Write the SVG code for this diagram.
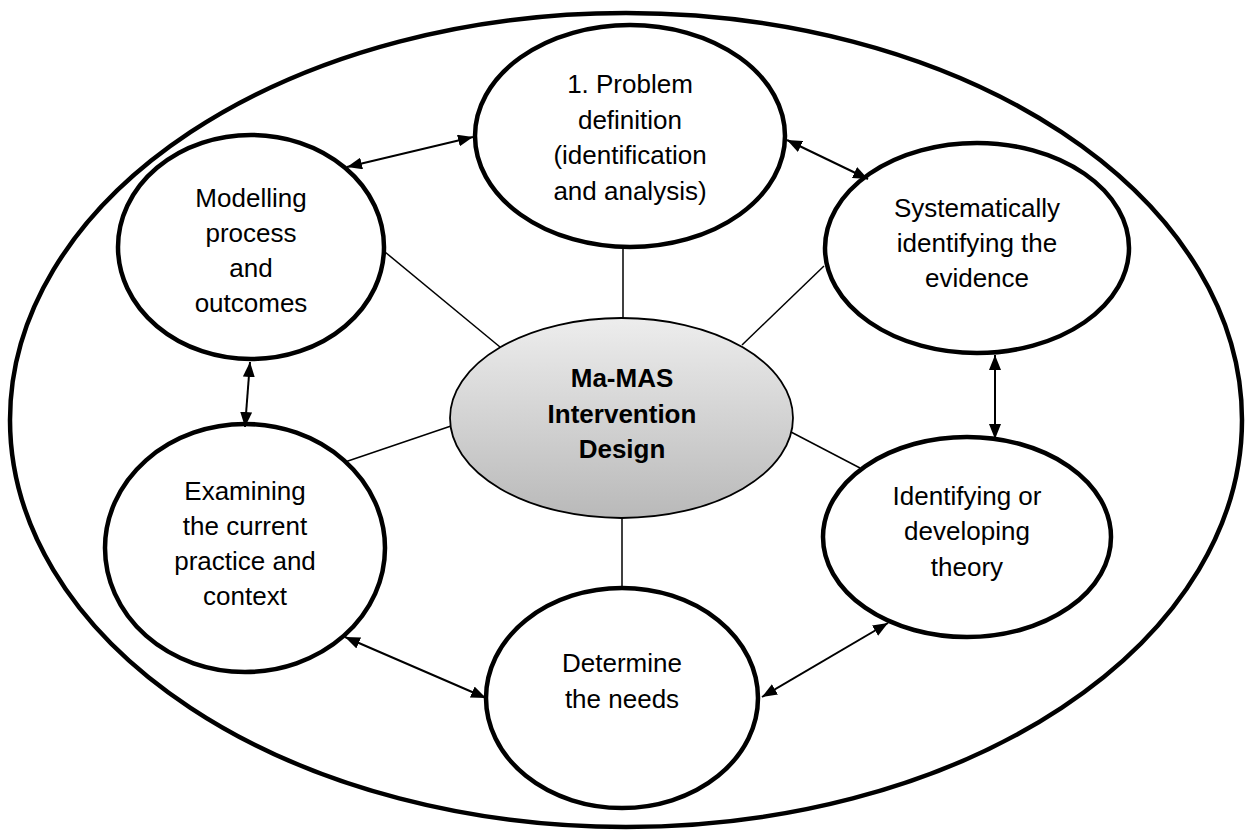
<svg xmlns="http://www.w3.org/2000/svg" width="1251" height="837" viewBox="0 0 1251 837">
  <defs>
    <linearGradient id="hubFill" x1="0" y1="0" x2="0" y2="1">
      <stop offset="0" stop-color="#ededed"/>
      <stop offset="1" stop-color="#b9b9b9"/>
    </linearGradient>
    <marker id="head" viewBox="0 0 15 12" refX="15" refY="6" markerWidth="15" markerHeight="12" markerUnits="userSpaceOnUse" orient="auto-start-reverse">
      <path d="M0,0 L15,6 L0,12 z" fill="#000"/>
    </marker>
  </defs>
  <style>
    .frame { fill: none; stroke: #000; stroke-width: 4.5; }
    .step { fill: #fff; stroke: #000; stroke-width: 4.5; }
    .hub { fill: url(#hubFill); stroke: #000; stroke-width: 1.8; }
    .label { font-family: "Liberation Sans", Arial, sans-serif; font-size: 26px; fill: #000; text-anchor: middle; }
    .hubLabel { font-weight: bold; }
    .spoke { stroke: #000; stroke-width: 1.5; fill: none; }
    .link { stroke: #000; stroke-width: 2; fill: none; marker-start: url(#head); marker-end: url(#head); }
  </style>

  <rect width="1251" height="837" fill="#fff"/>

  <!-- outer boundary -->
  <ellipse id="boundary" class="frame" cx="626" cy="420" rx="616" ry="407"/>

  <!-- spokes from the hub to each step -->
  <g id="spokes">
    <line class="spoke" x1="623" y1="247" x2="623" y2="318"/>
    <line class="spoke" x1="385" y1="252" x2="500" y2="347"/>
    <line class="spoke" x1="824" y1="266" x2="742" y2="345"/>
    <line class="spoke" x1="345" y1="462" x2="451" y2="426"/>
    <line class="spoke" x1="860" y1="468" x2="791" y2="432"/>
    <line class="spoke" x1="622" y1="518" x2="622" y2="588"/>
  </g>

  <g id="node-problem">
    <ellipse class="step" cx="630" cy="136" rx="155" ry="111"/>
    <text class="label" x="630" y="93">1. Problem</text>
    <text class="label" x="630" y="128.5">definition</text>
    <text class="label" x="630" y="164">(identification</text>
    <text class="label" x="630" y="199.5">and analysis)</text>
  </g>

  <g id="node-modelling">
    <ellipse class="step" cx="251" cy="247" rx="133" ry="112"/>
    <text class="label" x="251" y="207">Modelling</text>
    <text class="label" x="251" y="242">process</text>
    <text class="label" x="251" y="277">and</text>
    <text class="label" x="251" y="312">outcomes</text>
  </g>

  <g id="node-evidence">
    <ellipse class="step" cx="977" cy="248" rx="152" ry="105"/>
    <text class="label" x="977" y="217">Systematically</text>
    <text class="label" x="977" y="252">identifying the</text>
    <text class="label" x="977" y="287">evidence</text>
  </g>

  <g id="node-practice">
    <ellipse class="step" cx="245" cy="548" rx="140" ry="124"/>
    <text class="label" x="245" y="500">Examining</text>
    <text class="label" x="245" y="535">the current</text>
    <text class="label" x="245" y="570">practice and</text>
    <text class="label" x="245" y="605">context</text>
  </g>

  <g id="node-theory">
    <ellipse class="step" cx="967" cy="537" rx="144" ry="100"/>
    <text class="label" x="967" y="505">Identifying or</text>
    <text class="label" x="967" y="540">developing</text>
    <text class="label" x="967" y="576">theory</text>
  </g>

  <g id="node-needs">
    <ellipse class="step" cx="622" cy="698" rx="136" ry="110"/>
    <text class="label" x="622" y="672">Determine</text>
    <text class="label" x="622" y="708">the needs</text>
  </g>

  <g id="node-hub">
    <ellipse class="hub" cx="621.5" cy="418" rx="171.5" ry="100"/>
    <text class="label hubLabel" x="622" y="387">Ma-MAS</text>
    <text class="label hubLabel" x="622" y="423">Intervention</text>
    <text class="label hubLabel" x="622" y="458">Design</text>
  </g>

  <!-- two-way links between neighbouring steps -->
  <g id="links">
    <line class="link" x1="347" y1="167" x2="473" y2="137"/>
    <line class="link" x1="787" y1="140" x2="868" y2="179"/>
    <line class="link" x1="995" y1="355" x2="995" y2="439"/>
    <line class="link" x1="888" y1="623" x2="762" y2="697"/>
    <line class="link" x1="486" y1="698" x2="345" y2="637"/>
    <line class="link" x1="250" y1="362" x2="245" y2="427"/>
  </g>
</svg>
